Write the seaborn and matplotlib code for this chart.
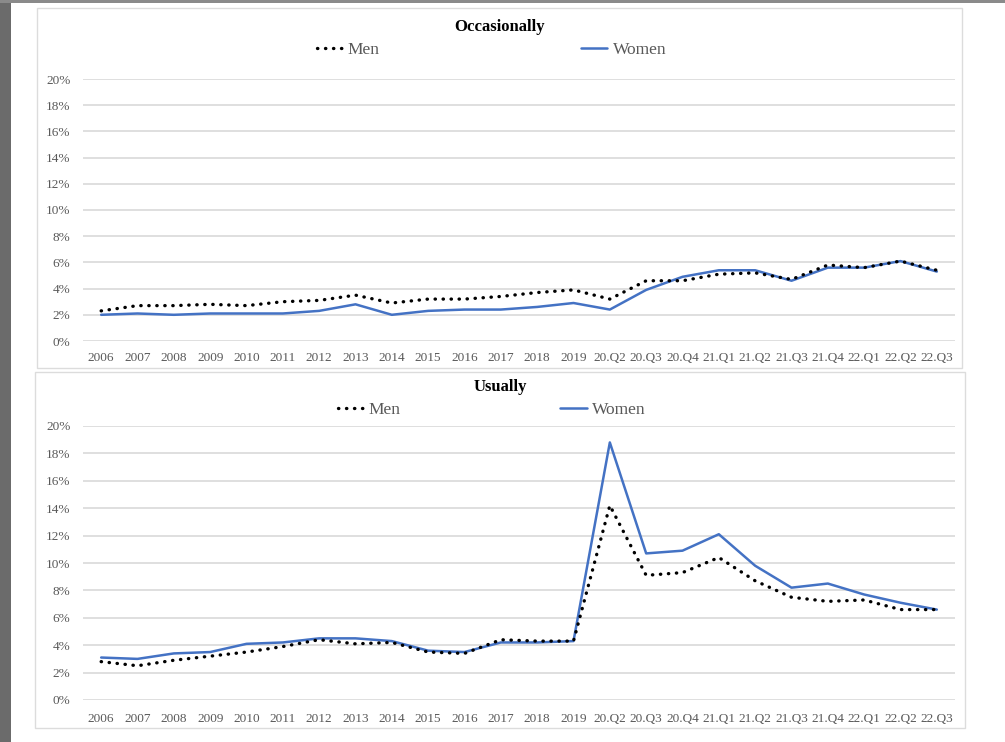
import matplotlib
matplotlib.use("Agg")
import matplotlib.pyplot as plt
from matplotlib.lines import Line2D
from matplotlib.patches import Rectangle
import pandas as pd
import seaborn as sb

# x categories
periods = ['2006', '2007', '2008', '2009', '2010', '2011', '2012', '2013',
           '2014', '2015', '2016', '2017', '2018', '2019',
           '20.Q2', '20.Q3', '20.Q4', '21.Q1', '21.Q2', '21.Q3', '21.Q4',
           '22.Q1', '22.Q2', '22.Q3']

# Occasionally (%)
occ_men = [2.3, 2.7, 2.7, 2.8, 2.7, 3.0, 3.1, 3.5, 2.9, 3.2, 3.2, 3.4, 3.7, 3.9,
           3.2, 4.6, 4.6, 5.1, 5.2, 4.7, 5.8, 5.6, 6.1, 5.4]
occ_women = [2.0, 2.1, 2.0, 2.1, 2.1, 2.1, 2.3, 2.8, 2.0, 2.3, 2.4, 2.4, 2.6, 2.9,
             2.4, 3.9, 4.9, 5.4, 5.4, 4.6, 5.6, 5.6, 6.1, 5.3]

# Usually (%)
usu_men = [2.8, 2.5, 2.9, 3.2, 3.5, 3.9, 4.4, 4.1, 4.2, 3.5, 3.4, 4.4, 4.3, 4.3,
           14.2, 9.1, 9.3, 10.4, 8.7, 7.5, 7.2, 7.3, 6.6, 6.6]
usu_women = [3.1, 3.0, 3.4, 3.5, 4.1, 4.2, 4.5, 4.5, 4.3, 3.6, 3.5, 4.2, 4.2, 4.3,
             18.8, 10.7, 10.9, 12.1, 9.8, 8.2, 8.5, 7.7, 7.1, 6.6]

y_ticks = [0, 2, 4, 6, 8, 10, 12, 14, 16, 18, 20]
y_labels = [f'{t}%' for t in y_ticks]

BLUE = '#4472C4'
GRAY_TXT = '#595959'
GRID = '#d9d9d9'

sb.set_style("white")
plt.rcParams['font.family'] = ['Liberation Serif', 'DejaVu Serif']

fig = plt.figure(figsize=(10.05, 7.42), dpi=100)

# dark strip on the left edge of the photo
fig.patches.append(Rectangle((0, 0), 11 / 1005, 1, transform=fig.transFigure,
                             facecolor='#6b6b6b', edgecolor='none', zorder=-2))
fig.patches.append(Rectangle((0, 1 - 3 / 742), 1, 3 / 742, transform=fig.transFigure,
                             facecolor='#8a8a8a', edgecolor='none', zorder=-2))
# panel frames
for (x0, y0, x1, y1) in [(37, 8, 962, 368), (35, 372, 965, 728)]:
    fig.patches.append(Rectangle((x0 / 1005, 1 - y1 / 742), (x1 - x0) / 1005,
                                 (y1 - y0) / 742, transform=fig.transFigure,
                                 facecolor='white', edgecolor='#dcdcdc',
                                 linewidth=1, zorder=-1))

panels = [
    dict(title='Occasionally', men=occ_men, women=occ_women,
         rect=[83 / 1005, 1 - 341 / 742, 872 / 1005, 262 / 742],
         title_y=27, leg_y=50, colspacing=11.6, xpad=8),
    dict(title='Usually', men=usu_men, women=usu_women,
         rect=[83 / 1005, 1 - 700 / 742, 872 / 1005, 274 / 742],
         title_y=387, leg_y=410, colspacing=9.2, xpad=9.5),
]

for p in panels:
    ax = fig.add_axes(p['rect'])
    df = pd.DataFrame({'Period': periods, 'Men': p['men'], 'Women': p['women']})
    sb.lineplot(data=df, x='Period', y='Women', sort=False, ax=ax,
                color=BLUE, linewidth=1.8, solid_joinstyle='round', zorder=3)
    sb.lineplot(data=df, x='Period', y='Men', sort=False, ax=ax,
                color='black', linewidth=2.4, linestyle=(0, (0.1, 2.3)),
                dash_capstyle='round', zorder=4)
    ax.set_xlim(-0.5, len(periods) - 0.5)
    ax.set_ylim(0, 20)
    ax.set_yticks(y_ticks)
    ax.set_yticklabels(y_labels)
    ax.set_xticks(range(len(periods)))
    ax.set_xticklabels(periods)
    ax.set_xlabel('')
    ax.set_ylabel('')
    ax.grid(axis='y', color=GRID, linewidth=1.2)
    ax.grid(axis='x', visible=False)
    ax.set_axisbelow(True)
    for s in ax.spines.values():
        s.set_visible(False)
    ax.tick_params(axis='both', length=0, labelsize=9.5, labelcolor=GRAY_TXT)
    ax.tick_params(axis='y', pad=9)
    ax.tick_params(axis='x', pad=p['xpad'])
    ax.patch.set_alpha(0)

    fig.text(0.4975, 1 - p['title_y'] / 742, p['title'], ha='center', va='center',
             fontsize=12, fontweight='bold', color='black')

    handles = [Line2D([], [], color='black', linewidth=2.4, linestyle=(0, (0.1, 2.3)),
                      dash_capstyle='round', label='Men'),
               Line2D([], [], color=BLUE, linewidth=1.8, label='Women')]
    ax.legend(handles=handles, loc='center', ncol=2, frameon=False,
              bbox_to_anchor=(0.489, 1 - p['leg_y'] / 742), bbox_transform=fig.transFigure,
              fontsize=12.5, labelcolor=GRAY_TXT, handlelength=1.5, handletextpad=0.3,
              columnspacing=p['colspacing'])

fig.savefig('out.png', dpi=100)
